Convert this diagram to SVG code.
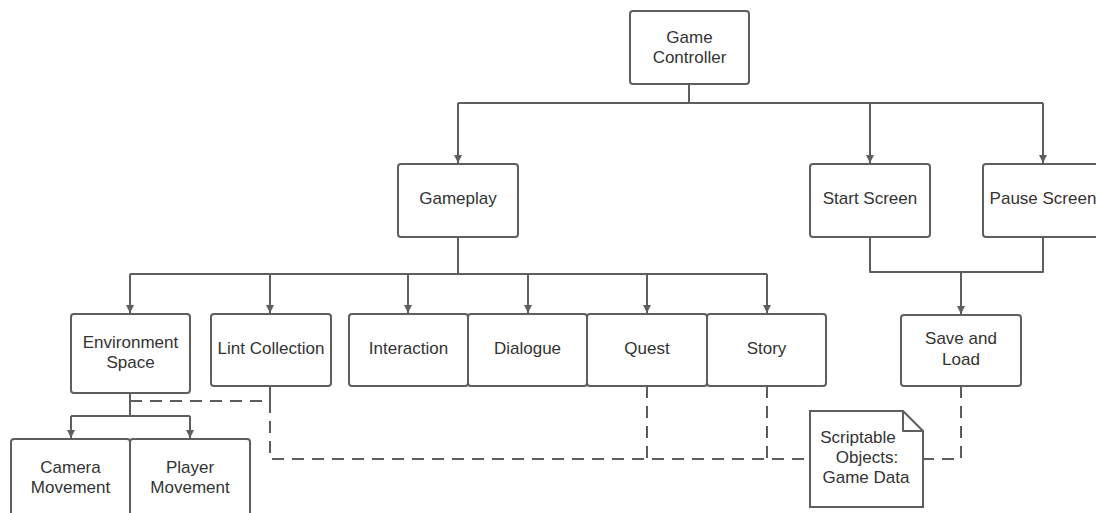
<svg xmlns="http://www.w3.org/2000/svg" width="1096" height="513" viewBox="0 0 1096 513">
  <style>
    .box { fill: #ffffff; stroke: #5e5e5e; stroke-width: 2; }
    .lbl { font-family: "Liberation Sans", Arial, sans-serif; font-size: 17px; fill: #333333; text-anchor: middle; }
    .wire { fill: none; stroke: #5e5e5e; stroke-width: 2; stroke-linejoin: round; }
    .dash { fill: none; stroke: #5e5e5e; stroke-width: 2; stroke-dasharray: 12 8; }
  </style>
  <defs>
    <marker id="arrow" viewBox="0 0 10 10" refX="10" refY="5" markerWidth="8" markerHeight="8" markerUnits="userSpaceOnUse" orient="auto">
      <path d="M0,0 L10,5 L0,10 z" fill="#5e5e5e"/>
    </marker>
  </defs>
  <rect width="1096" height="513" fill="#ffffff"/>

  <!-- connectors -->
  <g id="connectors">
    <!-- Game Controller fan-out -->
    <path class="wire" d="M689,84 V103"/>
    <path class="wire" d="M458,103 H1043"/>
    <path class="wire" d="M458,103 V163" marker-end="url(#arrow)"/>
    <path class="wire" d="M870,103 V163" marker-end="url(#arrow)"/>
    <path class="wire" d="M1043,103 V163" marker-end="url(#arrow)"/>
    <!-- Gameplay fan-out -->
    <path class="wire" d="M458,237 V274"/>
    <path class="wire" d="M130,274 H767"/>
    <path class="wire" d="M130,274 V313" marker-end="url(#arrow)"/>
    <path class="wire" d="M270,274 V313" marker-end="url(#arrow)"/>
    <path class="wire" d="M408,274 V313" marker-end="url(#arrow)"/>
    <path class="wire" d="M528,274 V313" marker-end="url(#arrow)"/>
    <path class="wire" d="M647,274 V313" marker-end="url(#arrow)"/>
    <path class="wire" d="M767,274 V313" marker-end="url(#arrow)"/>
    <!-- Start / Pause merge into Save and Load -->
    <path class="wire" d="M870,237 V272 H1043 V237"/>
    <path class="wire" d="M961,272 V314" marker-end="url(#arrow)"/>
    <!-- Environment Space fan-out -->
    <path class="wire" d="M130,393 V416"/>
    <path class="wire" d="M71,416 H190"/>
    <path class="wire" d="M71,416 V438" marker-end="url(#arrow)"/>
    <path class="wire" d="M190,416 V438" marker-end="url(#arrow)"/>
    <!-- data links to the note -->
    <path class="dash" d="M130,401 H270"/>
    <path class="wire" d="M270,386 V401"/>
    <path class="dash" d="M270,401 V459 H810"/>
    <path class="dash" d="M647,386 V459"/>
    <path class="dash" d="M767,386 V459"/>
    <path class="dash" d="M961,386 V459 H923"/>
  </g>

  <g id="game-controller">
    <rect class="box" x="630" y="11" width="119" height="73" rx="3"/>
    <text class="lbl" x="689.5" y="43">Game</text>
    <text class="lbl" x="689.5" y="63">Controller</text>
  </g>
  <g id="gameplay">
    <rect class="box" x="398" y="164" width="120" height="73" rx="3"/>
    <text class="lbl" x="458" y="204">Gameplay</text>
  </g>
  <g id="start-screen">
    <rect class="box" x="810" y="164" width="120" height="73" rx="3"/>
    <text class="lbl" x="870" y="204">Start Screen</text>
  </g>
  <g id="pause-screen">
    <rect class="box" x="983" y="164" width="120" height="73" rx="3"/>
    <text class="lbl" x="1043" y="204">Pause Screen</text>
  </g>
  <g id="environment-space">
    <rect class="box" x="71" y="314" width="119" height="79" rx="3"/>
    <text class="lbl" x="130.5" y="348">Environment</text>
    <text class="lbl" x="130.5" y="368">Space</text>
  </g>
  <g id="lint-collection">
    <rect class="box" x="211" y="314" width="120" height="72" rx="3"/>
    <text class="lbl" x="271" y="354">Lint Collection</text>
  </g>
  <g id="interaction">
    <rect class="box" x="349" y="314" width="119" height="72" rx="3"/>
    <text class="lbl" x="408.5" y="354">Interaction</text>
  </g>
  <g id="dialogue">
    <rect class="box" x="468" y="314" width="119" height="72" rx="3"/>
    <text class="lbl" x="527.5" y="354">Dialogue</text>
  </g>
  <g id="quest">
    <rect class="box" x="587" y="314" width="120" height="72" rx="3"/>
    <text class="lbl" x="647" y="354">Quest</text>
  </g>
  <g id="story">
    <rect class="box" x="707" y="314" width="119" height="72" rx="3"/>
    <text class="lbl" x="766.5" y="354">Story</text>
  </g>
  <g id="save-and-load">
    <rect class="box" x="901" y="315" width="120" height="71" rx="3"/>
    <text class="lbl" x="961" y="344">Save and</text>
    <text class="lbl" x="961" y="365">Load</text>
  </g>
  <g id="camera-movement">
    <rect class="box" x="11" y="439" width="119" height="90" rx="3"/>
    <text class="lbl" x="70.5" y="473">Camera</text>
    <text class="lbl" x="70.5" y="493">Movement</text>
  </g>
  <g id="player-movement">
    <rect class="box" x="130" y="439" width="120" height="90" rx="3"/>
    <text class="lbl" x="190" y="473">Player</text>
    <text class="lbl" x="190" y="493">Movement</text>
  </g>
  <g id="scriptable-objects">
    <path class="box" d="M810,411 H903 L923,431 V507 H810 Z"/>
    <path class="wire" d="M903,411 V431 H923"/>
    <text class="lbl" x="858" y="443">Scriptable</text>
    <text class="lbl" x="867" y="463">Objects:</text>
    <text class="lbl" x="866" y="483">Game Data</text>
  </g>
</svg>
